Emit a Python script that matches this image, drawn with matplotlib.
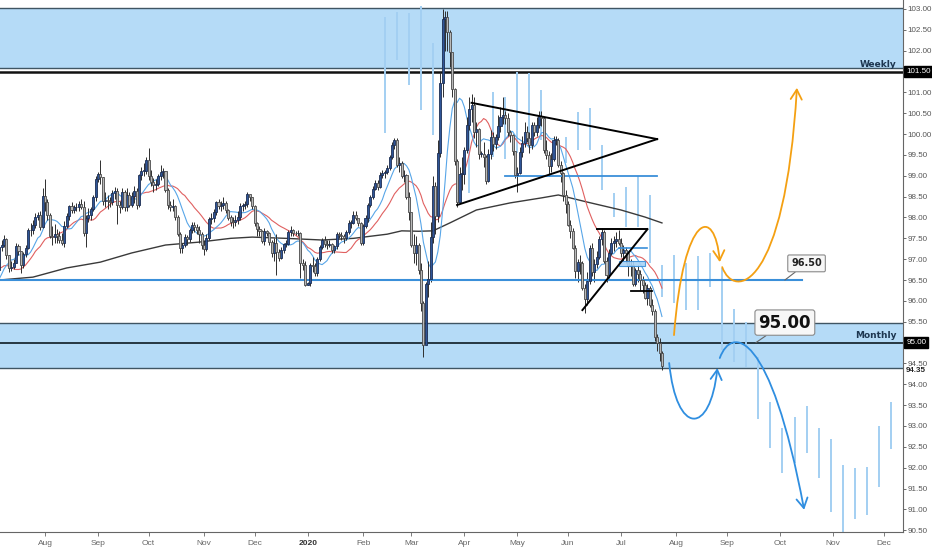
import numpy as np
import pandas as pd
import matplotlib
matplotlib.use('Agg')
import matplotlib.pyplot as plt
from matplotlib.path import Path
from matplotlib.patches import FancyArrowPatch, Rectangle
import matplotlib.transforms as mtransforms

# ---------------- data ----------------
start_date = '2019-07-05'
end_date = '2020-12-31'

# closes before the first drawn candle (Jun 3 - Jul 4 2019), only used to warm up the averages
warmup_close = [97.15, 97.04, 97.30, 97.06, 96.54, 96.98, 96.70, 96.95, 97.01, 97.56,
                97.57, 97.61, 97.20, 96.63, 96.20, 96.22, 96.24, 96.21, 96.18, 96.13,
                96.83, 96.68, 96.76, 96.73]

close_2019_07 = [97.29, 97.35, 97.48, 97.09, 96.80, 96.81, 96.92, 97.31, 97.20, 96.85, 97.12, 97.28, 97.69, 97.71, 97.82, 98.02, 98.07, 97.78, 98.52]
high_2019_07 = [97.40, 97.45, 97.58, 97.52, 97.10, 96.95, 97.00, 97.38, 97.37, 97.20, 97.18, 97.33, 97.74, 97.86, 97.95, 98.10, 98.12, 98.15, 98.70]
low_2019_07 = [96.75, 97.20, 97.30, 97.00, 96.70, 96.72, 96.77, 96.90, 97.10, 96.68, 96.80, 97.05, 97.25, 97.55, 97.60, 97.75, 97.95, 97.70, 97.75]

close_2019_08 = [98.37, 98.07, 97.55, 97.53, 97.60, 97.55, 97.46, 97.39, 97.80, 98.04, 98.27, 98.17, 98.24, 98.25, 98.33, 98.26, 97.62, 97.99, 98.06, 98.21, 98.48, 98.92]
high_2019_08 = [98.93, 98.45, 98.10, 97.80, 97.85, 97.72, 97.68, 97.62, 97.92, 98.10, 98.30, 98.38, 98.30, 98.35, 98.40, 98.45, 98.40, 98.05, 98.22, 98.25, 98.55, 99.00]
low_2019_08 = [98.15, 97.95, 97.50, 97.33, 97.40, 97.40, 97.40, 97.35, 97.30, 97.75, 97.95, 98.10, 98.10, 98.15, 98.15, 98.20, 97.55, 97.30, 97.90, 97.95, 98.15, 98.40]

close_2019_09 = [99.04, 98.96, 98.40, 98.43, 98.39, 98.36, 98.59, 98.63, 98.29, 98.26, 98.60, 98.24, 98.55, 98.30, 98.51, 98.64, 98.30, 99.02, 99.12, 99.12, 99.38]
high_2019_09 = [99.10, 99.37, 98.98, 98.60, 98.55, 98.50, 98.65, 98.72, 98.70, 98.40, 98.70, 98.65, 98.70, 98.60, 98.60, 98.75, 98.70, 99.05, 99.20, 99.30, 99.45]
low_2019_09 = [98.85, 98.80, 98.30, 98.25, 98.20, 98.25, 98.30, 98.45, 97.85, 98.10, 98.20, 98.15, 98.15, 98.25, 98.25, 98.35, 98.20, 98.25, 98.90, 99.00, 99.05]

close_2019_10 = [99.00, 98.86, 98.78, 98.81, 98.99, 99.10, 99.11, 98.66, 98.30, 98.26, 98.28, 98.01, 97.60, 97.27, 97.34, 97.54, 97.48, 97.70, 97.83, 97.78, 97.70, 97.60, 97.35]
high_2019_10 = [99.67, 99.15, 98.95, 98.92, 99.05, 99.25, 99.18, 99.12, 98.70, 98.40, 98.45, 98.30, 98.05, 97.65, 97.40, 97.60, 97.58, 97.75, 97.90, 97.90, 97.85, 97.80, 97.65]
low_2019_10 = [98.90, 98.75, 98.60, 98.65, 98.75, 98.90, 98.95, 98.60, 98.20, 98.15, 98.15, 97.95, 97.55, 97.15, 97.15, 97.30, 97.35, 97.42, 97.62, 97.65, 97.60, 97.40, 97.25]

close_2019_11 = [97.24, 97.52, 97.96, 97.98, 98.12, 98.37, 98.28, 98.29, 98.35, 98.17, 98.00, 97.90, 97.89, 97.94, 98.02, 98.27, 98.31, 98.33, 98.56, 98.48, 98.27]
high_2019_11 = [97.45, 97.60, 98.00, 98.10, 98.20, 98.40, 98.45, 98.40, 98.50, 98.40, 98.20, 98.05, 98.00, 98.05, 98.15, 98.35, 98.35, 98.40, 98.60, 98.55, 98.50]
low_2019_11 = [97.10, 97.20, 97.45, 97.85, 97.90, 98.05, 98.20, 98.15, 98.20, 98.10, 97.95, 97.80, 97.75, 97.80, 97.85, 97.95, 98.15, 98.20, 98.25, 98.40, 98.20]

close_2019_12 = [97.86, 97.73, 97.68, 97.43, 97.68, 97.63, 97.41, 97.14, 97.40, 97.18, 97.04, 97.21, 97.36, 97.37, 97.66, 97.69, 97.63, 97.62, 97.63, 96.92, 96.86, 96.39]
high_2019_12 = [98.30, 97.90, 97.80, 97.70, 97.75, 97.70, 97.65, 97.45, 97.50, 97.60, 97.25, 97.30, 97.40, 97.45, 97.70, 97.80, 97.72, 97.68, 97.70, 97.65, 97.00, 96.95]
low_2019_12 = [97.80, 97.55, 97.55, 97.40, 97.35, 97.55, 97.35, 97.05, 96.95, 96.62, 96.95, 97.00, 97.15, 97.30, 97.35, 97.55, 97.55, 97.58, 97.55, 96.55, 96.75, 96.35]

close_2020_01 = [96.42, 96.85, 96.84, 96.67, 97.00, 97.30, 97.45, 97.36, 97.35, 97.36, 97.22, 97.31, 97.61, 97.59, 97.56, 97.52, 97.66, 97.87, 97.87, 98.06, 98.00, 97.87, 97.39]
high_2020_01 = [96.45, 96.90, 97.05, 96.90, 97.05, 97.35, 97.50, 97.55, 97.45, 97.45, 97.40, 97.35, 97.65, 97.65, 97.65, 97.60, 97.70, 97.95, 97.95, 98.15, 98.15, 97.95, 97.90]
low_2020_01 = [96.38, 96.35, 96.70, 96.60, 96.60, 96.95, 97.25, 97.30, 97.25, 97.30, 97.15, 97.15, 97.25, 97.52, 97.45, 97.40, 97.45, 97.60, 97.75, 97.85, 97.95, 97.80, 97.35]

close_2020_02 = [97.80, 97.98, 98.30, 98.50, 98.69, 98.83, 98.72, 99.03, 99.07, 99.10, 99.19, 99.44, 99.73, 99.85, 99.25, 99.31, 99.00, 99.03, 98.50, 98.13]
high_2020_02 = [97.85, 98.05, 98.35, 98.55, 98.75, 98.90, 98.90, 99.08, 99.15, 99.15, 99.25, 99.50, 99.80, 99.91, 99.90, 99.45, 99.35, 99.15, 99.05, 98.60]
low_2020_02 = [97.35, 97.75, 97.90, 98.25, 98.45, 98.65, 98.65, 98.70, 98.95, 98.95, 99.05, 99.15, 99.40, 99.65, 99.20, 99.10, 98.95, 98.85, 98.45, 97.95]

close_2020_03 = [97.35, 97.14, 97.33, 96.74, 95.94, 94.95, 96.40, 96.53, 97.53, 98.75, 98.03, 99.54, 101.22, 102.75, 102.82, 102.45, 101.97, 101.07, 99.36, 98.36, 99.05, 99.05]
high_2020_03 = [98.10, 97.60, 97.55, 97.40, 96.90, 96.00, 96.45, 96.95, 97.90, 99.00, 98.85, 99.85, 101.50, 102.99, 102.95, 102.95, 102.50, 101.90, 101.10, 99.40, 99.20, 99.45]
low_2020_03 = [97.30, 96.90, 96.85, 96.65, 95.75, 94.65, 95.00, 96.10, 96.45, 97.40, 97.60, 97.90, 99.45, 100.90, 102.00, 102.00, 101.60, 100.90, 99.25, 98.25, 98.40, 98.65]

close_2020_04 = [99.63, 100.22, 100.60, 100.70, 100.06, 100.12, 99.52, 99.52, 99.45, 98.87, 99.53, 99.94, 99.76, 99.92, 100.19, 100.40, 100.45, 100.38, 100.05, 99.97, 99.59, 99.02]
high_2020_04 = [99.70, 100.40, 100.90, 100.95, 100.90, 100.30, 100.15, 99.60, 99.80, 99.50, 99.65, 100.10, 100.05, 100.00, 100.45, 100.65, 100.90, 100.55, 100.50, 100.10, 100.00, 99.60]
low_2020_04 = [98.80, 99.55, 100.10, 100.30, 99.90, 99.70, 99.40, 99.45, 99.20, 98.80, 98.85, 99.40, 99.60, 99.65, 99.85, 100.05, 100.25, 100.25, 99.95, 99.80, 99.50, 98.95]

close_2020_05 = [99.06, 99.57, 99.78, 100.05, 99.91, 99.74, 100.22, 100.04, 100.21, 100.43, 100.38, 99.63, 99.51, 99.23, 99.41, 99.86, 99.87, 99.25, 99.06, 98.54, 98.33]
high_2020_05 = [99.20, 99.70, 99.95, 100.30, 100.20, 100.05, 100.30, 100.30, 100.40, 100.55, 100.55, 100.40, 99.85, 99.60, 99.55, 99.95, 99.95, 99.90, 99.35, 99.10, 98.65]
low_2020_05 = [98.60, 99.05, 99.45, 99.70, 99.80, 99.55, 99.65, 99.95, 99.95, 100.15, 100.20, 99.55, 99.40, 99.00, 99.10, 99.35, 99.75, 99.20, 98.85, 98.40, 98.10]

close_2020_06 = [97.83, 97.68, 97.28, 96.72, 96.94, 96.90, 96.30, 96.05, 96.47, 97.27, 96.70, 96.88, 97.06, 97.48, 97.65, 96.96, 96.61, 97.15, 97.40, 97.43, 97.49, 97.39]
high_2020_06 = [98.40, 97.95, 97.75, 97.35, 97.00, 97.10, 96.95, 96.40, 96.70, 97.35, 97.40, 97.00, 97.20, 97.55, 97.75, 97.70, 97.05, 97.25, 97.50, 97.55, 97.65, 97.70]
low_2020_06 = [97.80, 97.50, 97.25, 96.55, 96.45, 96.65, 96.25, 95.71, 95.90, 96.40, 96.60, 96.45, 96.80, 97.00, 97.35, 96.90, 96.45, 96.55, 97.10, 97.20, 97.30, 97.35]

close_2020_07 = [97.15, 97.21, 97.15, 96.84, 96.85, 96.40, 96.73, 96.65, 96.50, 96.39, 96.07, 96.31, 95.91, 95.76, 95.14, 95.00, 94.75, 94.43]
high_2020_07 = [97.50, 97.35, 97.30, 97.15, 97.00, 96.95, 96.80, 96.85, 96.75, 96.60, 96.45, 96.40, 96.35, 96.05, 95.80, 95.20, 95.10, 94.80]
low_2020_07 = [97.05, 96.95, 96.90, 96.60, 96.60, 96.35, 96.35, 96.45, 96.25, 96.20, 96.05, 95.90, 95.85, 95.65, 95.05, 94.80, 94.55, 94.35]

# slow (200-day) average
slow_ma_dates = ['2019-07-05', '2019-07-25', '2019-08-14', '2019-09-03', '2019-09-20', '2019-10-10',
                 '2019-10-30', '2019-11-18', '2019-11-29', '2019-12-19', '2020-01-09', '2020-01-28',
                 '2020-02-17', '2020-02-25', '2020-03-05', '2020-03-13', '2020-03-24', '2020-04-08',
                 '2020-04-28', '2020-05-15', '2020-05-26', '2020-06-11', '2020-07-01', '2020-07-15',
                 '2020-07-24']
slow_ma_values = [96.50, 96.57, 96.79, 96.93, 97.15, 97.34, 97.41, 97.50, 97.53, 97.50, 97.46, 97.50,
                  97.60, 97.68, 97.67, 97.68, 97.87, 98.18, 98.35, 98.47, 98.54, 98.37, 98.18, 98.01,
                  97.87]

# projected weekly bars (light blue)
ghost_dates = ['2020-02-14', '2020-02-21', '2020-02-28', '2020-03-06', '2020-03-13', '2020-04-03',
               '2020-04-17', '2020-04-24', '2020-05-01', '2020-05-08', '2020-05-15', '2020-05-29',
               '2020-06-05', '2020-06-12', '2020-06-19', '2020-06-26', '2020-07-03', '2020-07-10',
               '2020-07-17', '2020-07-24', '2020-07-31', '2020-08-07', '2020-08-14', '2020-08-21',
               '2020-08-28', '2020-09-04', '2020-09-11', '2020-09-18', '2020-09-25', '2020-10-02',
               '2020-10-09', '2020-10-16', '2020-10-23', '2020-10-30', '2020-11-06', '2020-11-13',
               '2020-11-20', '2020-11-27', '2020-12-04']
ghost_high = [102.81, 102.93, 102.90, 103.07, 102.18, 100.17, 101.00, 100.90, 101.49, 101.47, 101.06,
              99.93, 100.53, 100.63, 99.74, 98.59, 98.73, 99.00, 98.54, 96.86, 97.10, 96.91, 97.08,
              97.15, 96.79, 95.81, 95.49, 94.65, 93.58, 92.95, 93.22, 93.48, 92.95, 92.69, 92.06,
              91.99, 92.02, 93.00, 93.58]
ghost_low = [100.03, 101.78, 101.18, 100.58, 99.98, 98.59, 99.45, 99.40, 99.55, 99.74, 99.86,
             99.30, 99.62, 99.62, 98.66, 98.01, 97.77, 97.77, 96.91, 96.09, 95.95, 95.78, 95.78,
             96.33, 94.82, 94.53, 94.41, 93.17, 92.47, 91.87, 92.11, 92.35, 91.75, 90.94, 90.40,
             90.77, 90.87, 91.54, 92.45]

weekly_zone = (101.59, 103.02)
monthly_zone = (94.40, 95.48)
weekly_level = 101.50
monthly_level = 95.00
support_level = 96.50
mid_level = 99.00
last_price = 94.35

month_labels = ['Aug', 'Sep', 'Oct', 'Nov', 'Dec', '2020', 'Feb', 'Mar', 'Apr', 'May', 'Jun',
                'Jul', 'Aug', 'Sep', 'Oct', 'Nov', 'Dec']
month_starts = ['2019-08-01', '2019-09-02', '2019-10-01', '2019-11-01', '2019-12-02', '2020-01-01',
                '2020-02-03', '2020-03-02', '2020-04-01', '2020-05-01', '2020-06-01', '2020-07-01',
                '2020-08-03', '2020-09-01', '2020-10-01', '2020-11-02', '2020-12-01']

# ---------------- build ----------------
close = np.array(close_2019_07 + close_2019_08 + close_2019_09 + close_2019_10 + close_2019_11 +
                 close_2019_12 + close_2020_01 + close_2020_02 + close_2020_03 + close_2020_04 +
                 close_2020_05 + close_2020_06 + close_2020_07)
high = np.array(high_2019_07 + high_2019_08 + high_2019_09 + high_2019_10 + high_2019_11 +
                high_2019_12 + high_2020_01 + high_2020_02 + high_2020_03 + high_2020_04 +
                high_2020_05 + high_2020_06 + high_2020_07)
low = np.array(low_2019_07 + low_2019_08 + low_2019_09 + low_2019_10 + low_2019_11 +
               low_2019_12 + low_2020_01 + low_2020_02 + low_2020_03 + low_2020_04 +
               low_2020_05 + low_2020_06 + low_2020_07)
opn = np.concatenate([[warmup_close[-1]], close[:-1]])

days = pd.bdate_range(start_date, end_date)
def pos(d):
    return int(days.get_loc(pd.Timestamp(d)))

n = len(close)
x = np.arange(n)

allc = pd.Series(np.concatenate([warmup_close, close]))
ma_fast = allc.rolling(10, min_periods=1).mean().values[-n:]
ma_mid = allc.rolling(20, min_periods=1).mean().values[-n:]

# ---------------- figure ----------------
W, H = 932, 550
fig = plt.figure(figsize=(W / 100, H / 100), dpi=100)
fig.patch.set_facecolor('white')
ax = fig.add_axes([0, 18 / H, 903 / W, 532 / H])
ax.set_facecolor('white')

ppu = 41.7
ax.set_ylim(103 - 523 / ppu, 103 + 9 / ppu)
dx = 2.41
ax.set_xlim(0.8 / dx, (903 + 0.8) / dx)

zone_c = '#b5dbf7'
edge_c = '#3f5563'
ax.axhspan(*weekly_zone, color=zone_c, zorder=0, lw=0)
ax.axhspan(*monthly_zone, color=zone_c, zorder=0, lw=0)
for v in list(weekly_zone) + list(monthly_zone):
    ax.axhline(v, color=edge_c, lw=1.0, zorder=1)
ax.axhline(weekly_level, color='#111111', lw=1.8, zorder=1)
ax.axhline(monthly_level, color='#1b2a33', lw=1.3, zorder=1)

# ghost projection bars
gx = [pos(d) for d in ghost_dates]
ax.vlines(gx, ghost_low, ghost_high, color='#a3cff2', lw=1.4, zorder=1.5)

# averages
ax.plot([pos(d) for d in slow_ma_dates], slow_ma_values, color='#3a3a3a', lw=1.0, zorder=3)
ax.plot(x, ma_mid, color='#e06060', lw=0.8, zorder=3)
ax.plot(x, ma_fast, color='#58a6e8', lw=0.8, zorder=3)

# candles
up = close >= opn
ax.vlines(x, low, high, color='#2e2e2e', lw=0.7, zorder=4)
bot = np.minimum(opn, close)
hgt = np.maximum(np.abs(close - opn), 0.02)
ax.bar(x[up], hgt[up], bottom=bot[up], width=0.85, color='#2f5597', edgecolor='#1b2d52', lw=0.6, zorder=5)
ax.bar(x[~up], hgt[~up], bottom=bot[~up], width=0.85, color='#b9b9b9', edgecolor='#4a4a4a', lw=0.6, zorder=5)

# levels drawn on chart
lvl_c = '#3a8fd9'
ax.plot([x[0] - 2, pos('2020-10-14')], [support_level] * 2, color=lvl_c, lw=1.5, zorder=4.5)
ax.plot([pos('2020-04-24'), pos('2020-07-22')], [mid_level] * 2, color=lvl_c, lw=1.3, zorder=4.5)
ax.plot([pos('2020-06-30'), pos('2020-07-16')], [97.27] * 2, color=lvl_c, lw=1.2, zorder=6)
ax.add_patch(Rectangle((pos('2020-06-30'), 96.84), pos('2020-07-15') - pos('2020-06-30'), 0.12,
                       facecolor='#a9d3f5', edgecolor=lvl_c, lw=0.8, alpha=0.9, zorder=6))
ax.plot([pos('2020-07-07'), pos('2020-07-20')], [96.24] * 2, color='black', lw=1.3, zorder=6)

# triangles
tri_kw = dict(color='black', lw=1.4, zorder=6)
ax.plot([pos('2020-04-06'), pos('2020-07-22')], [100.75, 99.88], **tri_kw)
ax.plot([pos('2020-03-27'), pos('2020-07-22')], [98.30, 99.88], **tri_kw)
ax.plot([pos('2020-06-09'), pos('2020-07-16')], [95.78, 97.72], **tri_kw)
ax.plot([pos('2020-06-17'), pos('2020-07-16')], [97.72, 97.72], **tri_kw)

# projected path arrows
def bezier_arrow(pts, color):
    verts = [(pos(d), v) for d, v in pts]
    path = Path(verts, [Path.MOVETO, Path.CURVE4, Path.CURVE4, Path.CURVE4])
    arr = FancyArrowPatch(path=path, arrowstyle='->,head_length=0.7,head_width=0.4',
                          mutation_scale=10, color=color, lw=1.3, zorder=7)
    ax.add_patch(arr)

orange = '#f4a012'
blue = '#2f8ee0'
bezier_arrow([('2020-07-31', 95.18), ('2020-08-06', 98.16), ('2020-08-25', 98.30), ('2020-08-27', 96.93)], orange)
bezier_arrow([('2020-08-28', 96.81), ('2020-09-04', 96.02), ('2020-10-05', 96.26), ('2020-10-12', 101.11)], orange)
bezier_arrow([('2020-07-29', 94.51), ('2020-08-03', 92.76), ('2020-08-21', 92.76), ('2020-08-26', 94.39)], blue)
bezier_arrow([('2020-08-27', 94.63), ('2020-09-03', 95.42), ('2020-09-25', 95.30), ('2020-10-15', 90.99)], blue)

# callouts
ax.annotate('96.50', xy=(pos('2020-10-05'), support_level), xytext=(pos('2020-10-16'), 96.90),
            ha='center', va='center', fontsize=7, fontweight='bold', color='#222',
            bbox=dict(boxstyle='round,pad=0.35,rounding_size=0.15', fc='#f7f7f7', ec='#8a8a8a', lw=0.8),
            arrowprops=dict(arrowstyle='-', color='#666', lw=0.8, shrinkA=0, shrinkB=0), zorder=8)
ax.annotate('95.00', xy=(pos('2020-09-17'), monthly_level), xytext=(pos('2020-10-05'), 95.48),
            ha='center', va='center', fontsize=12, fontweight='bold', color='#111',
            bbox=dict(boxstyle='round,pad=0.22,rounding_size=0.15', fc='#f7f7f7', ec='#8a8a8a', lw=0.8),
            arrowprops=dict(arrowstyle='-', color='#666', lw=0.8, shrinkA=0, shrinkB=0), zorder=8)

# zone labels
tr = mtransforms.blended_transform_factory(ax.transAxes, ax.transData)
ax.text(0.993, weekly_level + 0.06, 'Weekly', transform=tr, ha='right', va='bottom',
        fontsize=6.5, fontweight='bold', color='#1d3650', zorder=8)
ax.text(0.993, monthly_level + 0.06, 'Monthly', transform=tr, ha='right', va='bottom',
        fontsize=6.5, fontweight='bold', color='#1d3650', zorder=8)

# axes styling
for s in ['top', 'left']:
    ax.spines[s].set_visible(False)
ax.spines['right'].set_color('#666')
ax.spines['bottom'].set_color('#666')
ax.yaxis.tick_right()
yt = np.arange(90.5, 103.01, 0.5)
ax.set_yticks(yt)
ax.set_yticklabels(['' if abs(v - weekly_level) < 1e-6 or abs(v - monthly_level) < 1e-6 else f'{v:.2f}'
                    for v in yt], fontfamily='Liberation Sans')
ax.tick_params(axis='y', labelsize=5.8, colors='#555', length=2, width=0.6, pad=1.5)
ax.set_xticks([pos(d) for d in month_starts])
ax.set_xticklabels(month_labels, fontfamily='Liberation Sans')
ax.tick_params(axis='x', labelsize=6, colors='#666', length=3, width=0.6, pad=3)
for lab in ax.get_xticklabels():
    if lab.get_text() == '2020':
        lab.set_fontweight('bold')
        lab.set_color('#333')

for v in [weekly_level, monthly_level]:
    ax.text(1.0035, v, f'{v:.2f}', transform=tr, ha='left', va='center', fontsize=5.8,
            fontfamily='Liberation Sans', color='white',
            bbox=dict(boxstyle='square,pad=0.25', fc='black', ec='black'), clip_on=False, zorder=9)
ax.text(1.0035, last_price - 0.03, f'{last_price:.2f}', transform=tr, ha='left', va='center', fontsize=5.8,
        fontfamily='Liberation Sans', fontweight='bold', color='#222',
        bbox=dict(boxstyle='square,pad=0.1', fc='white', ec='none'), clip_on=False, zorder=9)

fig.savefig('out.png', dpi=100, facecolor='white')
